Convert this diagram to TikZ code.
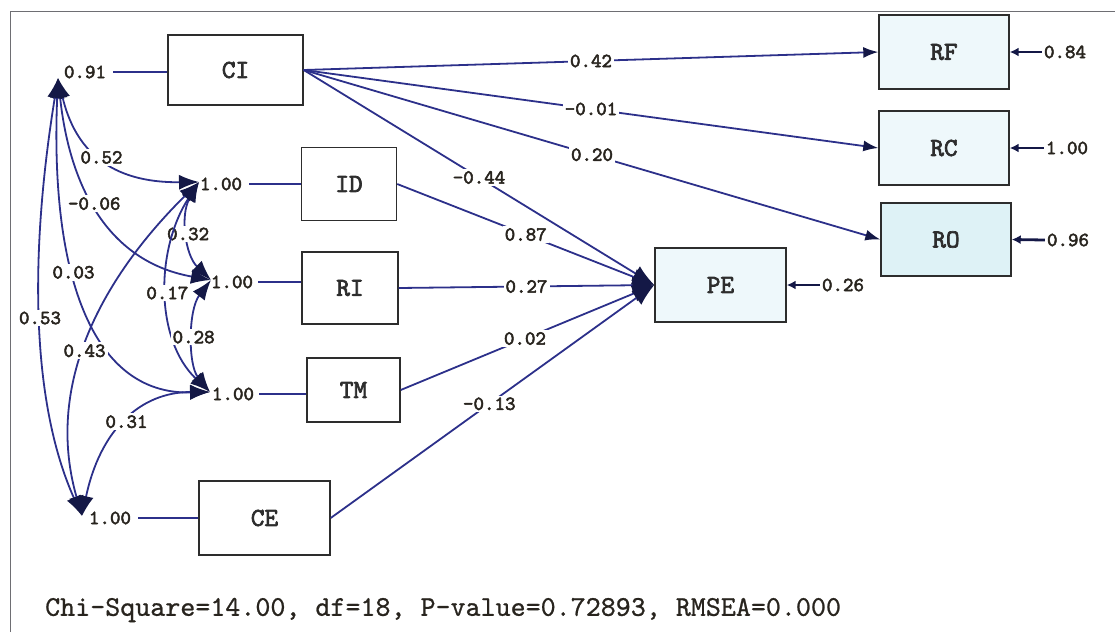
\documentclass[tikz,border=0pt]{standalone}
\usepackage{fontspec}
\newfontfamily\lisrel{lmmono10-regular.otf}[FakeBold=2.6]
\newfontfamily\lisrelfit{lmmono10-regular.otf}[FakeBold=0.8]
\usetikzlibrary{arrows.meta}
\definecolor{pathblue}{RGB}{44,48,138}
\definecolor{headblue}{RGB}{20,24,70}
\definecolor{boxgrey}{RGB}{45,45,45}
\definecolor{framegrey}{RGB}{110,110,115}
\definecolor{paleblue}{RGB}{238,248,251}
\definecolor{cyanblue}{RGB}{222,242,246}
\definecolor{txtdark}{RGB}{40,36,30}
\def\valfont{\lisrel\fontsize{20}{20}\selectfont}
\def\boxfont{\lisrel\fontsize{26}{26}\selectfont}

\begin{document}
\begin{tikzpicture}[x=1pt,y=-1pt,
  var/.style={draw=boxgrey,line width=1.4pt,inner sep=0pt,font=\boxfont,text=boxgrey},
  endo/.style={var,fill=paleblue,minimum width=130pt,minimum height=74pt},
  val/.style={font=\valfont,text=txtdark,inner sep=2pt},
  lab/.style={val,fill=white},
  plain/.style={draw=pathblue,line width=1.8pt},
  reg/.style={plain,-{Latex[length=15pt,width=11pt,color=headblue]}},
  toPE/.style={plain,-{Latex[length=22pt,width=17pt,color=headblue]}},
  cov/.style={plain,{Latex[length=20pt,width=15pt,color=headblue]}-{Latex[length=20pt,width=15pt,color=headblue]}},
  err/.style={draw=headblue,line width=2.8pt,-{Latex[length=9pt,width=9pt]}}]
  \useasboundingbox (0,0) rectangle (1115,632);
  \draw[framegrey,line width=1pt] (10,632) -- (10,11) -- (1115,11);

  % observed variables
  \node[var,minimum width=135pt,minimum height=70pt] (CI) at (235.5,70) {CI};
  \node[var,minimum width=95pt,minimum height=73pt] (ID) at (349,184) {ID};
  \node[var,minimum width=96pt,minimum height=72pt] (RI) at (350,288) {RI};
  \node[var,minimum width=93pt,minimum height=64pt] (TM) at (353.5,390) {TM};
  \node[var,minimum width=131pt,minimum height=74pt] (CE) at (264.5,518) {CE};
  \node[endo,minimum width=131pt] (PE) at (720.5,285) {PE};
  \node[endo] (RF) at (944,52) {RF};
  \node[endo] (RC) at (944,148) {RC};
  \node[endo,fill=cyanblue,minimum height=73pt] (RO) at (946,239.5) {RO};

  % variances
  \node[val] (vCI) at (85,72) {0.91};
  \node[val] (vID) at (221,184) {1.00};
  \node[val] (vRI) at (232,282) {1.00};
  \node[val] (vTM) at (233,394) {1.00};
  \node[val] (vCE) at (110,518) {1.00};
  \draw[plain] ([xshift=5pt]vCI.east) -- (vCI.east -| CI.west);
  \draw[plain] ([xshift=5pt]vID.east) -- (vID.east -| ID.west);
  \draw[plain] ([xshift=3pt]vRI.east) -- (vRI.east -| RI.west);
  \draw[plain] ([xshift=3pt]vTM.east) -- (vTM.east -| TM.west);
  \draw[plain] ([xshift=5pt]vCE.east) -- (vCE.east -| CE.west);

  \coordinate (pCI) at (58,78);
  \coordinate (pID) at (199,182);
  \coordinate (pRI) at (211,280);
  \coordinate (pTM) at (210,392);
  \coordinate (pCE) at (82,516);

  % covariances
  \draw[cov] (pCI) .. controls (75,150) and (110,183) .. node[lab,pos=0.5] {0.52} (pID);
  \draw[cov] (pCI) .. controls (70,190) and (110,262) .. node[lab,pos=0.45] {-0.06} (pRI);
  \draw[cov] (pCI) .. controls (50,270) and (90,395) .. node[lab,pos=0.4] {0.03} (pTM);
  \draw[cov] (pCI) .. controls (30,250) and (30,400) .. node[lab,pos=0.5] {0.53} (pCE);
  \draw[cov] (pID) .. controls (180,215) and (185,255) .. node[lab,pos=0.5] {0.32} (pRI);
  \draw[cov] (pID) .. controls (155,250) and (155,340) .. node[lab,pos=0.5] {0.17} (pTM);
  \draw[cov] (pRI) .. controls (188,310) and (188,365) .. node[lab,pos=0.5] {0.28} (pTM);
  \draw[cov] (pID) .. controls (120,260) and (40,370) .. node[lab,pos=0.58] {0.43} (pCE);
  \draw[cov] (pTM) .. controls (140,392) and (100,430) .. node[lab,pos=0.5] {0.31} (pCE);

  % paths
  \draw[reg] (CI.east) -- node[lab] {0.42} (RF.west);
  \draw[reg] (CI.east) -- node[lab] {-0.01} (RC.west);
  \draw[reg] (CI.east) -- node[lab] {0.20} (RO.west);
  \draw[toPE] (CI.east) -- node[lab] {-0.44} (PE.west);
  \draw[toPE] (ID.east) -- node[lab] {0.87} (PE.west);
  \draw[toPE] (RI.east) -- node[lab] {0.27} (PE.west);
  \draw[toPE] (TM.east) -- node[lab,pos=0.49] {0.02} (PE.west);
  \draw[toPE] (CE.east) -- node[lab,pos=0.49] {-0.13} (PE.west);

  % errors
  \node[val] (ePE) at (843,285) {0.26};
  \node[val] (eRF) at (1065,52) {0.84};
  \node[val] (eRC) at (1067,148) {1.00};
  \node[val] (eRO) at (1068,240) {0.96};
  \draw[err] (ePE.west) -- (PE.east);
  \draw[err] (eRF.west) -- (RF.east);
  \draw[err] (eRC.west) -- (RC.east);
  \draw[err] (eRO.west) -- (RO.east);

  \node[font=\lisrelfit\fontsize{28.6}{28.6}\selectfont,text=txtdark,anchor=west,inner sep=0pt] (fit) at (45,610)
    {Chi-Square=14.00, df=18, P-value=0.72893, RMSEA=0.000};
\end{tikzpicture}
\end{document}
